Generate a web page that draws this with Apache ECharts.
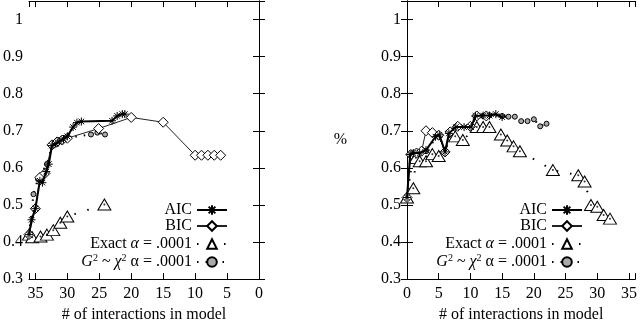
<!DOCTYPE html>
<html>
<head>
<meta charset="utf-8">
<script src="https://cdn.jsdelivr.net/npm/echarts@6/dist/echarts.min.js"></script>
<style>
  html, body { margin: 0; padding: 0; background: #fff; }
  #chart { width: 640px; height: 328px; }
</style>
</head>
<body>
<div id="chart"></div>
<script>
// tick labels
var xTicks = [0, 5, 10, 15, 20, 25, 30, 35];
var yTicks = [0.3, 0.4, 0.5, 0.6, 0.7, 0.8, 0.9, 1];

// left panel: [# of interactions, %]
var aicLeft = [[36,0.42],[35.6,0.46],[35,0.49],[34.3,0.565],[33.9,0.56],[33.3,0.59],[32.9,0.61],[32.4,0.66],[31.8,0.665],[31.2,0.672],[30.6,0.678],[30,0.685],[29.1,0.71],[28.5,0.722],[27.8,0.725],[23,0.727],[22.2,0.74],[21.4,0.745],[21,0.745]];
var bicLeft = [[36,0.42],[35,0.49],[34.3,0.574],[33.5,0.585],[32.4,0.662],[31.6,0.67],[30.8,0.675],[30,0.68],[25.1,0.706],[20,0.736],[15,0.723],[10,0.634],[9,0.634],[8,0.634],[7,0.634],[6,0.634]];
var exactLeft = [[36,0.42],[35.5,0.413],[34.2,0.415],[33.2,0.42],[32.2,0.432],[31.1,0.452],[30,0.469],[24.2,0.501]];
var g2Left = [[36,0.42],[35.3,0.529],[34.6,0.57],[33.2,0.61],[32.4,0.66],[31.5,0.675],[30.5,0.68],[26.3,0.69],[25.3,0.695],[24.1,0.69]];

// right panel
var aicRight = [[0,0.52],[0.5,0.636],[1,0.64],[2,0.64],[3,0.648],[4.5,0.684],[5.1,0.689],[6,0.643],[6.6,0.693],[7.7,0.71],[9,0.71],[10.1,0.71],[10.8,0.74],[12,0.741],[13,0.741],[14,0.745],[15,0.737]];
var bicRight = [[0,0.52],[0.6,0.636],[1.5,0.64],[2.3,0.645],[3,0.70],[4,0.695],[5,0.688],[6,0.643],[6.8,0.697],[8,0.712],[10,0.712],[11,0.74],[12.5,0.74]];
var exactRight = [[0,0.52],[1,0.545],[1.4,0.627],[2,0.618],[3,0.618],[4,0.637],[5,0.632],[7.6,0.685],[8.8,0.675],[11,0.71],[12,0.71],[13,0.71],[14.8,0.69],[15.8,0.674],[16.8,0.658],[17.8,0.645],[23,0.594],[27,0.58],[28,0.563],[29,0.5],[30,0.495],[31,0.473],[32,0.463]];
var g2Right = [[0,0.52],[1,0.64],[3,0.645],[5,0.69],[6,0.645],[7,0.7],[8,0.71],[10,0.71],[11,0.74],[12,0.74],[13,0.742],[15,0.74],[16,0.738],[17,0.738],[18,0.726],[19,0.726],[20,0.731],[21,0.712],[22,0.719]];

var font = 'Liberation Serif';
var star = 'path://M0 5L10 5M5 0L5 10M1.5 1.5L8.5 8.5M8.5 1.5L1.5 8.5';

var chart = echarts.init(document.getElementById('chart'));

function xAxisPair(grid, inverse) {
    var base = {
        type: 'value', gridIndex: grid, min: 0, max: 36, interval: 5, inverse: inverse,
        axisLine: { lineStyle: { color: '#000', width: 1 } },
        axisTick: { inside: true, length: 6, lineStyle: { color: '#000' } },
        splitLine: { show: false }
    };
    var bottom = Object.assign({}, base, {
        position: 'bottom',
        axisLabel: { color: '#000', fontFamily: font, fontSize: 16, margin: 7,
            customValues: xTicks },
        name: '# of interactions in model', nameLocation: 'middle', nameGap: 24,
        nameTextStyle: { color: '#000', fontFamily: font, fontSize: 16 }
    });
    var top = Object.assign({}, base, { position: 'top', axisLabel: { show: false } });
    return [bottom, top];
}
function yAxisPair(grid, name) {
    var base = {
        type: 'value', gridIndex: grid, min: 0.3, max: 1.05, interval: 0.1,
        axisLine: { lineStyle: { color: '#000', width: 1 } },
        axisTick: { inside: true, length: 6, lineStyle: { color: '#000' } },
        splitLine: { show: false }
    };
    var left = Object.assign({}, base, {
        position: 'left',
        axisLabel: { color: '#000', fontFamily: font, fontSize: 16, margin: 6,
            customValues: yTicks },
        name: name, nameLocation: 'middle', nameGap: 60, nameRotate: 0,
        nameTextStyle: { color: '#000', fontFamily: font, fontSize: 16 }
    });
    var right = Object.assign({}, base, { position: 'right', axisLabel: { show: false } });
    return [left, right];
}

function panelSeries(x, y, aic, bic, exact, g2) {
    return [
        {
            name: 'AIC', type: 'line', xAxisIndex: x, yAxisIndex: y, data: aic,
            symbol: star, symbolSize: 8,
            itemStyle: { color: '#000', borderColor: '#000', borderWidth: 1 },
            lineStyle: { color: '#000', width: 2 }, z: 4
        },
        {
            name: 'BIC', type: 'line', xAxisIndex: x, yAxisIndex: y, data: bic,
            symbol: 'diamond', symbolSize: 10,
            itemStyle: { color: '#fff', borderColor: '#000', borderWidth: 1 },
            lineStyle: { color: '#222', width: 1 }, z: 3
        },
        {
            name: 'Exact', type: 'line', xAxisIndex: x, yAxisIndex: y, data: exact,
            symbol: 'triangle', symbolSize: [13, 11],
            itemStyle: { color: '#fff', borderColor: '#000', borderWidth: 1 },
            lineStyle: { color: '#000', width: 2, type: [1.5, 12] }, z: 2
        },
        {
            // dot in the middle of every triangle
            type: 'scatter', xAxisIndex: x, yAxisIndex: y, data: exact,
            symbol: 'circle', symbolSize: 2, silent: true,
            itemStyle: { color: '#000' }, z: 2
        },
        {
            name: 'G2', type: 'line', xAxisIndex: x, yAxisIndex: y, data: g2,
            symbol: 'circle', symbolSize: 5,
            itemStyle: { color: '#aaa', borderColor: '#000', borderWidth: 1 },
            lineStyle: { color: '#000', width: 2, type: [1.5, 7] }, z: 1
        }
    ];
}

var rich = {
    n: { fontFamily: font, fontSize: 16, color: '#000' },
    i: { fontFamily: font, fontSize: 16, fontStyle: 'italic', color: '#000' },
    s: { fontFamily: font, fontSize: 10, color: '#000', verticalAlign: 'top', padding: [0, 0, 8, 0] }
};
var labels = {
    AIC: '{n|AIC}',
    BIC: '{n|BIC}',
    Exact: '{n|Exact }{i|α}{n| = .0001}',
    G2: '{i|G}{s|2}{n| ~ }{i|χ}{s|2}{n| α = .0001}'
};
var rowTops = [202, 218, 236, 253];
var names = ['AIC', 'BIC', 'Exact', 'G2'];
var legends = [];
[412, 57].forEach(function (r) {
    names.forEach(function (nm, k) {
        legends.push({
            data: [nm], right: r, top: rowTops[k], orient: 'vertical', align: 'right',
            itemWidth: 30, itemHeight: 12, padding: 0, selectedMode: false,
            formatter: function (n) { return labels[n]; },
            textStyle: { rich: rich, fontFamily: font, fontSize: 16, color: '#000' }
        });
    });
});

chart.setOption({
    animation: false,
    textStyle: { fontFamily: font },
    grid: [
        { left: 28, right: 381, top: 1, bottom: 41 },
        { left: 407, right: 3, top: 1, bottom: 41 }
    ],
    xAxis: xAxisPair(0, true).concat(xAxisPair(1, false)),
    yAxis: yAxisPair(0, '').concat(yAxisPair(1, '%')),
    legend: legends,
    series: panelSeries(0, 0, aicLeft, bicLeft, exactLeft, g2Left)
        .concat(panelSeries(2, 2, aicRight, bicRight, exactRight, g2Right))
});
</script>
</body>
</html>
